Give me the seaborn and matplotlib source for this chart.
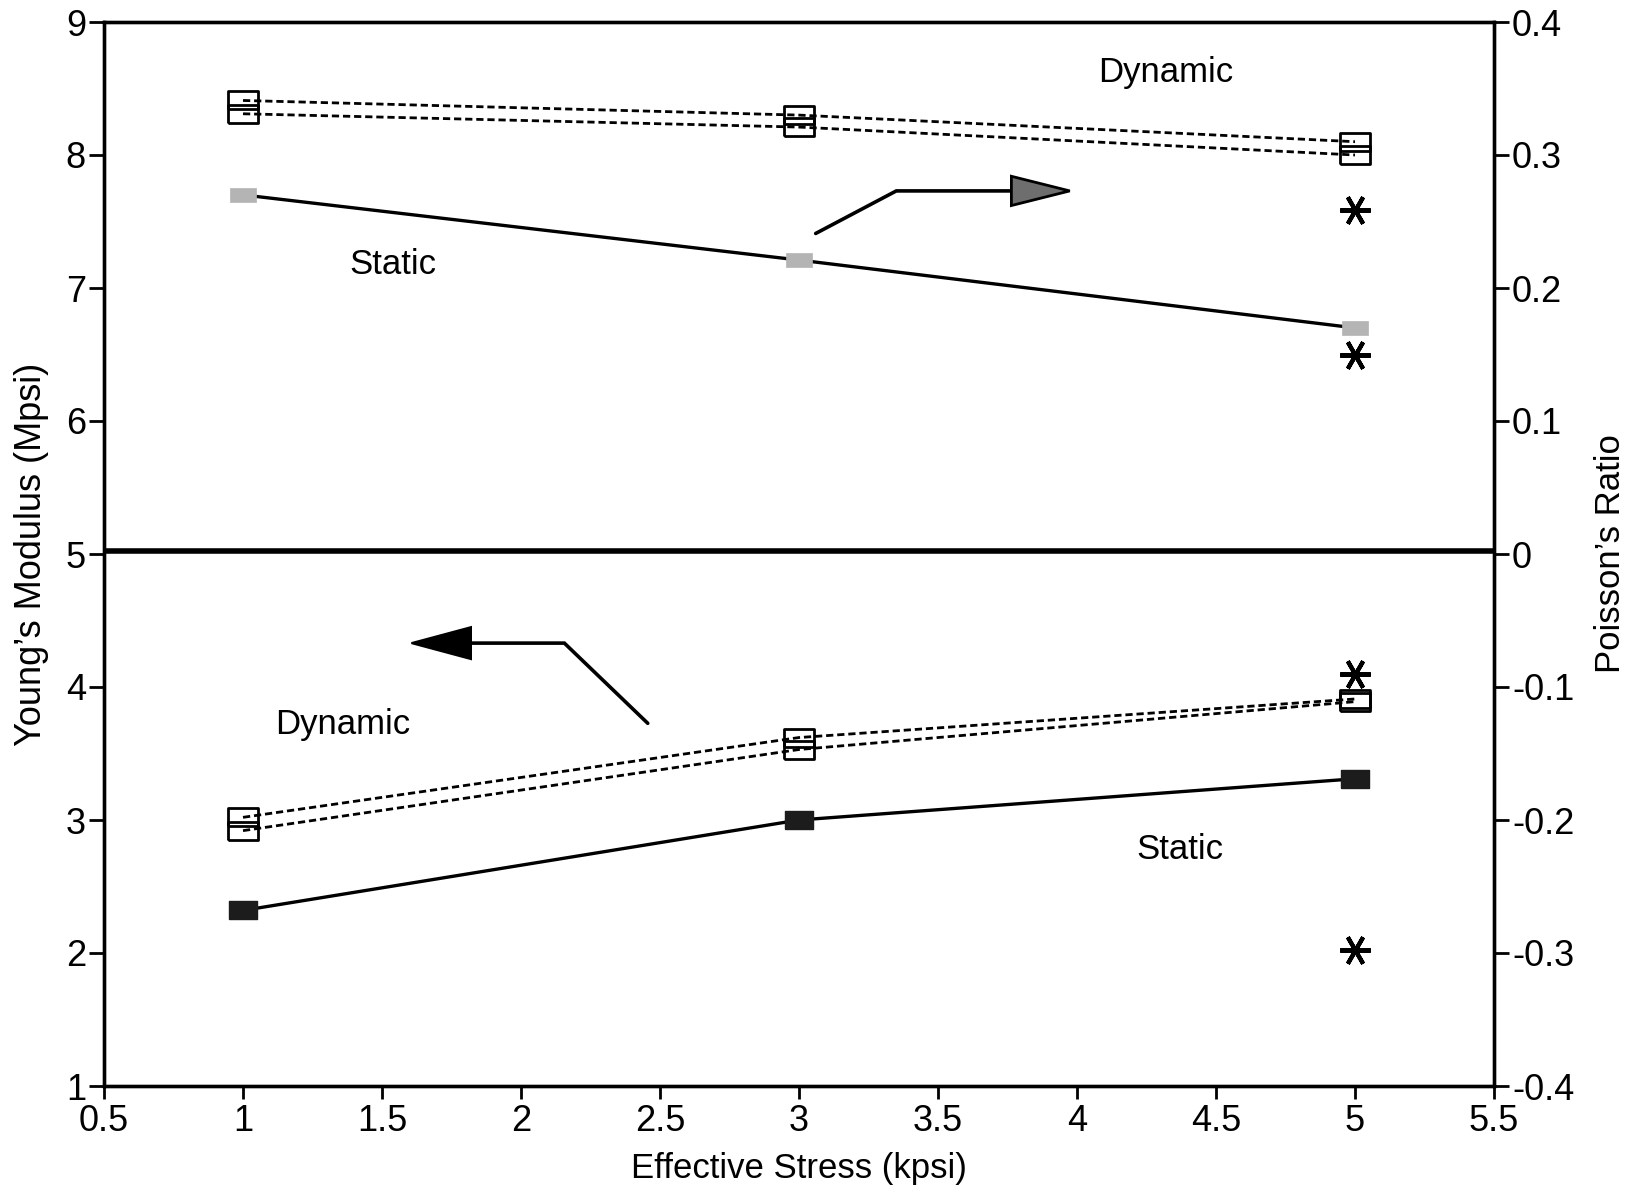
import matplotlib
matplotlib.use("Agg")
import matplotlib.pyplot as plt
import seaborn as sns
import pandas as pd
import numpy as np

# ---------------- data ----------------
stress = [1, 3, 5]
# Poisson's ratio (right axis)
pr_dyn_a = [0.341, 0.330, 0.310]
pr_dyn_b = [0.331, 0.321, 0.300]
pr_static = [0.270, 0.221, 0.170]
pr_star_x = [5, 5]
pr_star = [0.259, 0.150]
# Young's modulus (left axis, Mpsi)
ym_dyn_a = [3.02, 3.62, 3.91]
ym_dyn_b = [2.92, 3.53, 3.89]
ym_static = [2.32, 3.00, 3.31]
ym_star_x = [5, 5]
ym_star = [4.10, 2.02]

x_ticks = [0.5, 1, 1.5, 2, 2.5, 3, 3.5, 4, 4.5, 5, 5.5]
x_tick_labels = ["0.5", "1", "1.5", "2", "2.5", "3", "3.5", "4", "4.5", "5", "5.5"]
yl_ticks = [1, 2, 3, 4, 5, 6, 7, 8, 9]
yr_ticks = [-0.4, -0.3, -0.2, -0.1, 0, 0.1, 0.2, 0.3, 0.4]
yr_tick_labels = ["-0.4", "-0.3", "-0.2", "-0.1", "0", "0.1", "0.2", "0.3", "0.4"]

# annotations (text labels, in left-axis data units)
labels_text = ["Dynamic", "Static", "Dynamic", "Static"]
labels_x = [4.32, 1.54, 1.36, 4.37]
labels_y = [8.62, 7.18, 3.72, 2.78]
# bent arrows (left-axis data units)
arrow_up_x = [3.06, 3.35, 3.78]
arrow_up_y = [7.41, 7.73, 7.73]
arrow_up_head = [3.764, 3.974, 0.11]   # base x, tip x, half height
arrow_dn_x = [2.456, 2.156, 1.80]
arrow_dn_y = [3.727, 4.33, 4.33]
arrow_dn_head = [1.82, 1.606, 0.12]

# ---------------- style ----------------
sns.set_theme(style="ticks")
plt.rcParams["font.family"] = ["Liberation Sans", "DejaVu Sans"]
plt.rcParams["axes.unicode_minus"] = False
for k in ["text.color", "axes.labelcolor", "xtick.color", "ytick.color", "axes.edgecolor"]:
    plt.rcParams[k] = "black"

FS = 25
FT = 26
fig = plt.figure(figsize=(16.34, 11.90), dpi=100)
fig.patch.set_facecolor("white")
ax = fig.add_axes([104 / 1634, 1 - 1086 / 1190, (1494 - 104) / 1634, (1086 - 22) / 1190])
ax.set_facecolor("white")
ax2 = ax.twinx()

rect_open = [(-0.5, -0.32), (0.5, -0.32), (0.5, 0.32), (-0.5, 0.32), (-0.5, -0.32)]
rect_thin = [(-0.5, -0.27), (0.5, -0.27), (0.5, 0.27), (-0.5, 0.27), (-0.5, -0.27)]
star = (6, 2, 90)

dash = (0, (2.6, 1.4))

def line(axis, y, ls, marker, ms, mfc, mec, mew, lw, color="black", xs=stress, z=3):
    df = pd.DataFrame({"x": xs, "y": y})
    sns.lineplot(data=df, x="x", y="y", ax=axis, color=color, linestyle=ls,
                 linewidth=lw, marker=marker, markersize=ms,
                 markerfacecolor=mfc, markeredgecolor=mec, markeredgewidth=mew,
                 zorder=z, sort=False, estimator=None, errorbar=None)

# Poisson's ratio (right axis)
line(ax2, pr_dyn_a, dash, rect_open, 21, "none", "black", 2.0, 2.0)
line(ax2, pr_dyn_b, dash, rect_open, 21, "none", "black", 2.0, 2.0)
line(ax2, pr_static, "-", rect_thin, 19, "#b4b4b4", "#b4b4b4", 0.5, 2.4, z=2)
line(ax2, pr_star, "none", star, 22, "black", "black", 3.0, 0, xs=pr_star_x)

# Young's modulus (left axis)
line(ax, ym_dyn_a, dash, rect_open, 21, "none", "black", 2.0, 2.0)
line(ax, ym_dyn_b, dash, rect_open, 21, "none", "black", 2.0, 2.0)
line(ax, ym_static, "-", rect_open, 20, "#1c1c1c", "#1c1c1c", 1.0, 2.4)
line(ax, ym_star, "none", star, 22, "black", "black", 3.0, 0, xs=ym_star_x)

# zero line of Poisson's ratio
ax.axhline(5.02, color="black", linewidth=4.0, zorder=4)

# arrows
ax.plot(arrow_up_x, arrow_up_y, color="black", lw=2.6, solid_joinstyle="miter", zorder=5)
bx, tx, hh = arrow_up_head
ax.fill([bx, tx, bx], [arrow_up_y[-1] + hh, arrow_up_y[-1], arrow_up_y[-1] - hh],
        facecolor="#6e6e6e", edgecolor="black", lw=2.0, zorder=6)
ax.plot(arrow_dn_x, arrow_dn_y, color="black", lw=2.6, solid_joinstyle="miter", zorder=5)
bx, tx, hh = arrow_dn_head
ax.fill([bx, tx, bx], [arrow_dn_y[-1] + hh, arrow_dn_y[-1], arrow_dn_y[-1] - hh],
        facecolor="black", edgecolor="black", lw=1.5, zorder=6)

for t, xx, yy in zip(labels_text, labels_x, labels_y):
    ax.text(xx, yy, t, fontsize=FS, ha="center", va="center", color="black")

# axes
ax.set_xlim(0.5, 5.5)
ax.set_ylim(1, 9)
ax2.set_ylim(-0.4, 0.4)
ax.set_xticks(x_ticks)
ax.set_xticklabels(x_tick_labels)
ax.set_yticks(yl_ticks)
ax.set_yticklabels([str(v) for v in yl_ticks])
ax2.set_yticks(yr_ticks)
ax2.set_yticklabels(yr_tick_labels)

ax.set_xlabel("Effective Stress (kpsi)", fontsize=FS, labelpad=9, color="black")
ax.set_ylabel("Young\u2019s Modulus (Mpsi)", fontsize=26, labelpad=12, color="black")
ax2.set_ylabel("Poisson\u2019s Ratio", fontsize=FS, labelpad=14, color="black")

for a in (ax, ax2):
    for s in a.spines.values():
        s.set_linewidth(2.4)
        s.set_color("black")
ax.tick_params(axis="x", direction="out", length=9, width=2, labelsize=FT, pad=4, colors="black")
ax.tick_params(axis="y", direction="out", length=11, width=2, labelsize=FT, pad=2, colors="black")
ax2.tick_params(axis="y", direction="out", length=11, width=2, labelsize=FT, pad=2, colors="black")
ax.grid(False)
ax2.grid(False)

fig.savefig("out.png", dpi=100, facecolor="white")
